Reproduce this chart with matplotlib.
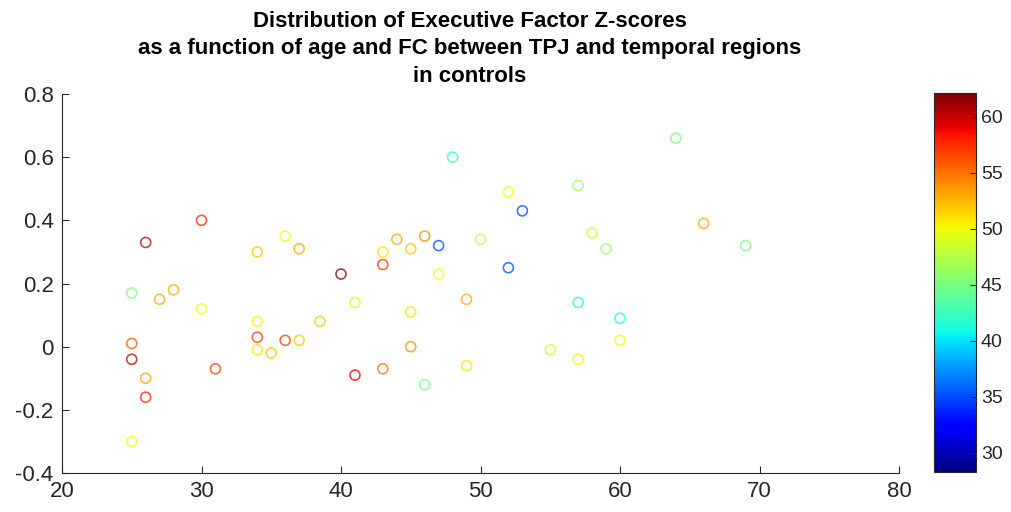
import matplotlib.pyplot as plt
import numpy as np

plt.rcParams['font.family'] = ['Liberation Sans', 'DejaVu Sans']

# age (x), FC TPJ-temporal (y), executive factor score (colour)
age = np.array([25, 26, 30, 27, 28, 30, 25, 25, 26, 26, 25, 31,
                34, 36, 37, 34, 34, 34, 35, 36, 37, 38.5, 40, 41, 41,
                43, 43, 43, 44, 45, 46, 47, 45, 47, 45, 46,
                48, 49, 49, 50, 52, 53, 52, 55,
                57, 58, 59, 57, 57, 60, 60, 64, 66, 69])
fc = np.array([0.17, 0.33, 0.40, 0.15, 0.18, 0.12, 0.01, -0.04, -0.10, -0.16, -0.30, -0.07,
               0.30, 0.35, 0.31, 0.08, 0.03, -0.01, -0.02, 0.02, 0.02, 0.08, 0.23, 0.14, -0.09,
               0.30, 0.26, -0.07, 0.34, 0.31, 0.35, 0.32, 0.11, 0.23, 0.00, -0.12,
               0.60, 0.15, -0.06, 0.34, 0.49, 0.43, 0.25, -0.01,
               0.51, 0.36, 0.31, 0.14, -0.04, 0.09, 0.02, 0.66, 0.39, 0.32])
score = np.array([45, 60, 58, 53, 53, 50, 56, 60, 53, 58, 50, 57,
                  52, 50, 53, 50, 57, 51, 52, 57, 52, 52, 62, 50, 59,
                  51, 57, 55, 53, 52, 54, 35, 51, 50, 54, 45,
                  42, 53, 51, 48, 50, 35, 35, 48,
                  46, 48, 46, 41, 50, 41, 50, 45, 53, 45])

vmin, vmax = 28.3, 62.1

fig = plt.figure(figsize=(10.11, 5.12), dpi=100)
ax = fig.add_axes([62/1011, 1-473/512, 837/1011, 379/512])
cax = fig.add_axes([934/1011, 1-472/512, 42/1011, 379/512])

sc = ax.scatter(age, fc, c=score, cmap='jet', vmin=vmin, vmax=vmax,
                marker='o', s=52, linewidths=1.2, alpha=0.75)
sc.set_facecolor('none')
sc.set_edgecolors(plt.cm.jet((score - vmin) / (vmax - vmin)))

ax.set_xlim(20, 80)
ax.set_ylim(-0.4, 0.8)
ax.set_xticks(np.arange(20, 81, 10))
ax.set_yticks(np.round(np.arange(-0.4, 0.81, 0.2), 1))
ax.set_yticklabels(['-0.4', '-0.2', '0', '0.2', '0.4', '0.6', '0.8'])
for s in ['top', 'right']:
    ax.spines[s].set_visible(False)
for s in ['left', 'bottom']:
    ax.spines[s].set_color('#262626')
ax.tick_params(direction='in', length=5, labelsize=16, colors='#262626', pad=6)

ax.set_title('Distribution of Executive Factor Z-scores\n'
             'as a function of age and FC between TPJ and temporal regions\n'
             'in controls', fontsize=16, fontweight='bold', linespacing=1.4,
             pad=9, x=0.487)

cb = fig.colorbar(sc, cax=cax)
cb.solids.set_alpha(1)
cb.set_ticks([30, 35, 40, 45, 50, 55, 60])
cb.ax.tick_params(direction='in', length=4, labelsize=14, colors='#262626')
cb.outline.set_edgecolor('#262626')

fig.savefig('out.png', dpi=100)
